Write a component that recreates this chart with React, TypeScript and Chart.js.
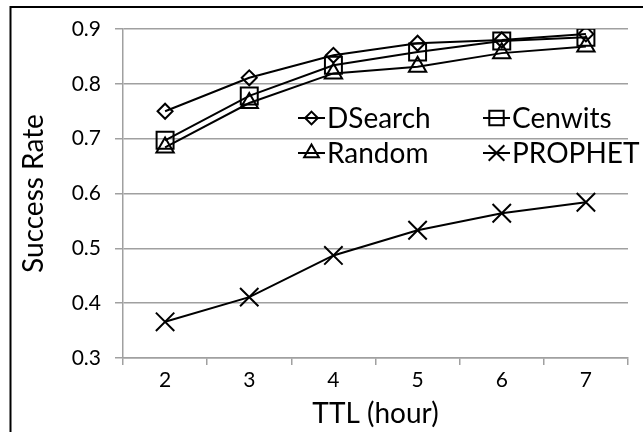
import React, { useEffect, useRef } from "react";
import { Chart, registerables } from "chart.js";

Chart.register(...registerables);

const ttlLabels = ["2", "3", "4", "5", "6", "7"];
const dsearch = [0.750, 0.811, 0.852, 0.874, 0.880, 0.891];
const cenwits = [0.697, 0.778, 0.834, 0.858, 0.878, 0.885];
const randomS = [0.684, 0.765, 0.819, 0.831, 0.856, 0.868];
const prophet = [0.366, 0.411, 0.487, 0.533, 0.564, 0.584];

const seriesNames = ["DSearch", "Cenwits", "Random", "PROPHET"];
const seriesStyles = ["rectRot", "rect", "triangle", "crossRot"];
const seriesRadii = [7.5, 12, 10, 13];

const FONT = "Lato, 'Open Sans', sans-serif";

function drawMarker(ctx: CanvasRenderingContext2D, style: string, x: number, y: number, r: number) {
  ctx.beginPath();
  if (style === "rectRot") {
    ctx.moveTo(x, y - r);
    ctx.lineTo(x + r, y);
    ctx.lineTo(x, y + r);
    ctx.lineTo(x - r, y);
    ctx.closePath();
  } else if (style === "rect") {
    const s = Math.SQRT1_2 * r;
    ctx.rect(x - s, y - s, 2 * s, 2 * s);
  } else if (style === "triangle") {
    const a = (Math.PI * 2) / 3;
    for (let i = 0; i < 3; i++) {
      const ang = -Math.PI / 2 + i * a;
      const px = x + Math.cos(ang) * r;
      const py = y + Math.sin(ang) * r;
      if (i === 0) ctx.moveTo(px, py);
      else ctx.lineTo(px, py);
    }
    ctx.closePath();
  } else if (style === "crossRot") {
    const s = Math.SQRT1_2 * r;
    ctx.moveTo(x - s, y - s);
    ctx.lineTo(x + s, y + s);
    ctx.moveTo(x + s, y - s);
    ctx.lineTo(x - s, y + s);
  }
  ctx.stroke();
}

const framePlugin = {
  id: "frame",
  beforeDraw(chart: any) {
    const ctx = chart.ctx as CanvasRenderingContext2D;
    ctx.save();
    ctx.fillStyle = "#ffffff";
    ctx.fillRect(0, 0, chart.width, chart.height);
    ctx.strokeStyle = "#000";
    ctx.lineWidth = 2;
    ctx.beginPath();
    ctx.moveTo(10.5, chart.height);
    ctx.lineTo(10.5, 7);
    ctx.lineTo(chart.width, 7);
    ctx.stroke();
    ctx.restore();
  },
  afterDraw(chart: any) {
    const ctx = chart.ctx as CanvasRenderingContext2D;
    const cols = [298, 483];
    const rows = [118, 153];
    ctx.save();
    ctx.strokeStyle = "#000";
    ctx.fillStyle = "#000";
    ctx.lineWidth = 2;
    ctx.font = `28px ${FONT}`;
    ctx.textBaseline = "middle";
    ctx.textAlign = "left";
    for (let i = 0; i < seriesNames.length; i++) {
      const cx = cols[i % 2];
      const cy = rows[Math.floor(i / 2)];
      ctx.beginPath();
      ctx.moveTo(cx, cy);
      ctx.lineTo(cx + 27, cy);
      ctx.stroke();
      drawMarker(ctx, seriesStyles[i], cx + 13.5, cy, seriesRadii[i] * 0.85);
      ctx.fillText(seriesNames[i], cx + 29, cy + 1);
    }
    ctx.restore();
  },
};

export default function App() {
  const ref = useRef<HTMLCanvasElement | null>(null);
  useEffect(() => {
    if (!ref.current) return;
    const values = [dsearch, cenwits, randomS, prophet];
    const chart = new Chart(ref.current, {
      type: "line",
      data: {
        labels: ttlLabels,
        datasets: values.map((v, i) => ({
          label: seriesNames[i],
          data: v,
          borderColor: "#000",
          backgroundColor: "rgba(0,0,0,0)",
          borderWidth: 2,
          pointStyle: seriesStyles[i] as any,
          pointRadius: seriesRadii[i],
          pointBorderWidth: 2,
          pointBorderColor: "#000",
          pointBackgroundColor: "rgba(0,0,0,0)",
          tension: 0,
          fill: false,
        })),
      },
      options: {
        animation: false,
        responsive: false,
        layout: { padding: { left: 10, top: 29, right: 7, bottom: 0 } },
        plugins: { legend: { display: false }, tooltip: { enabled: false } },
        scales: {
          x: {
            offset: true,
            afterFit: (s: any) => {
              s.height = 74;
            },
            grid: {
              offset: true,
              drawOnChartArea: false,
              drawTicks: true,
              tickLength: 7,
              color: "#a0a0a0",
              lineWidth: 1.5,
            },
            border: { display: true, color: "#a0a0a0", width: 1.5 },
            ticks: { color: "#000", font: { family: FONT, size: 21 }, padding: 3 },
            title: {
              display: true,
              text: "TTL (hour)",
              color: "#000",
              font: { family: FONT, size: 28 },
              padding: { top: 0, bottom: 1 },
            },
          },
          y: {
            min: 0.3,
            max: 0.9,
            afterFit: (s: any) => {
              s.width = 113;
            },
            grid: { color: "#a0a0a0", lineWidth: 1.5, tickLength: 8, drawTicks: true },
            border: { display: true, color: "#a0a0a0", width: 1.5 },
            ticks: {
              stepSize: 0.1,
              color: "#000",
              font: { family: FONT, size: 21 },
              padding: 14,
              callback: (v: any) => Number(v).toFixed(1),
            },
            title: {
              display: true,
              text: "Success Rate",
              color: "#000",
              font: { family: FONT, size: 28 },
              padding: { top: 7, bottom: 0 },
            },
          },
        },
      },
      plugins: [framePlugin],
    });
    return () => chart.destroy();
  }, []);
  return (
    <div style={{ position: "fixed", left: 0, top: 0, width: 643, height: 432, background: "#fff" }}>
      <canvas ref={ref} width={643} height={432} style={{ display: "block", width: 643, height: 432 }} />
    </div>
  );
}
